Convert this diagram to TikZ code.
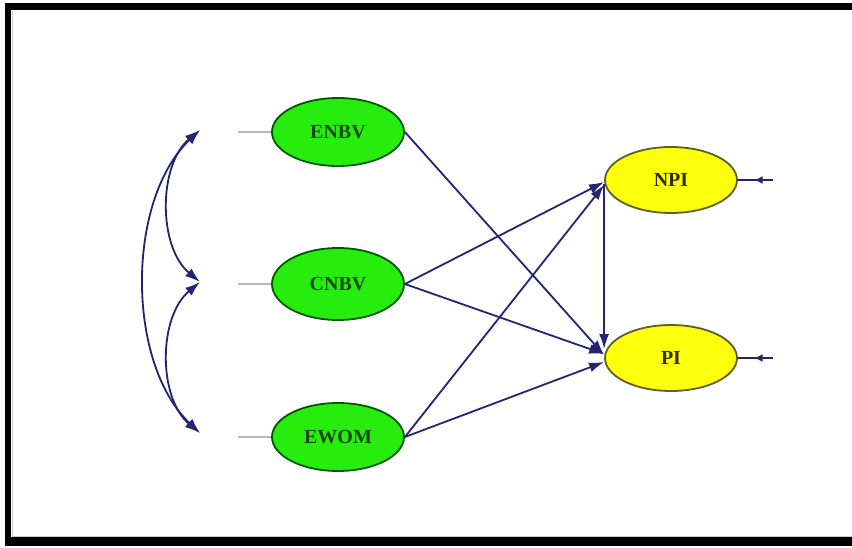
\documentclass[tikz,border=0pt]{standalone}
\usepackage{fontspec}
\setmainfont{Liberation Serif}
\usetikzlibrary{shapes.geometric, arrows.meta, decorations.markings, positioning}
\definecolor{navyline}{rgb}{0.14, 0.14, 0.45}
\definecolor{latentgreen}{rgb}{0.15, 0.93, 0.05}
\definecolor{latentyellow}{rgb}{1.0, 1.0, 0.05}
\definecolor{darkgreentext}{rgb}{0.10, 0.28, 0.08}
\definecolor{olivetext}{rgb}{0.18, 0.18, 0.02}
\definecolor{stubgray}{rgb}{0.72, 0.72, 0.72}

\begin{document}
\begin{tikzpicture}[x=1pt, y=-1pt, >={Latex[length=15pt,width=10pt]}]
        \tikzstyle{exo}=[ellipse, draw=green!35!black, line width=1.8pt, fill=latentgreen,
            minimum width=132pt, minimum height=68pt, inner sep=0pt,
            text=darkgreentext, font=\fontsize{20}{24}\selectfont\bfseries]
        \tikzstyle{endo}=[exo, draw=olive!60!black, fill=latentyellow, minimum height=66pt, text=olivetext]
        \tikzstyle{path}=[->, navyline, line width=1.8pt]
        \tikzstyle{cov}=[<->, navyline, line width=1.8pt]
        \tikzstyle{stub}=[stubgray, line width=1.8pt]
        \tikzstyle{resid}=[navyline, line width=2pt, decoration={markings,
            mark=at position 0.55 with {\arrow{Latex[length=9pt,width=8pt]}}}, postaction={decorate}]

        \useasboundingbox (0,0) rectangle (852,548);
        % Frame
        \fill[black] (5,3) rectangle (860,546);
        \fill[white] (11,10) rectangle (860,537);
        \draw[gray!40, line width=1pt] (12,11) -- (12,536) -- (860,536);

        % Exogenous variables
        \node (enbv)[exo] at (338,132) {ENBV};
        \node (cnbv)[exo, minimum height=72pt] at (338,284) {CNBV};
        \node (ewom)[exo] at (338,437) {EWOM};

        % Endogenous variables
        \node (npi)[endo] at (671,180) {NPI};
        \node (pi)[endo] at (671,358) {PI};

        % Covariance ends
        \coordinate (c1) at (200,130);
        \coordinate (c2) at (200,282);
        \coordinate (c3) at (200,433);
        \coordinate (s1) at (238,132);
        \coordinate (s2) at (238,284);
        \coordinate (s3) at (238,437);

        % Error terms
        \coordinate (e1) at (773,180);
        \coordinate (e2) at (773,358);

        % Stubs
        \draw[stub] (s1) -- (enbv.west);
        \draw[stub] (s2) -- (cnbv.west);
        \draw[stub] (s3) -- (ewom.west);

        % Covariances
        \draw[cov] (c1) .. controls (158,165) and (158,247) .. (c2);
        \draw[cov] (c2) .. controls (158,317) and (158,398) .. (c3);
        \draw[cov] (c1) .. controls (126,200) and (126,363) .. (c3);

        % Paths
        \draw[path] (enbv.east) -- ([yshift=3pt]pi.west);
        \draw[path] (cnbv.east) -- ([yshift=-2pt]npi.west);
        \draw[path] (cnbv.east) -- ([yshift=4pt]pi.west);
        \draw[path] (ewom.east) -- ([yshift=-5pt]npi.west);
        \draw[path] (ewom.east) -- ([yshift=-4pt]pi.west);
        \draw[path] ([yshift=-4pt]npi.west) -- ([yshift=9pt]pi.west);

        % Residuals
        \draw[resid] (e1) -- (npi.east);
        \draw[resid] (e2) -- (pi.east);
    \end{tikzpicture}
\end{document}
